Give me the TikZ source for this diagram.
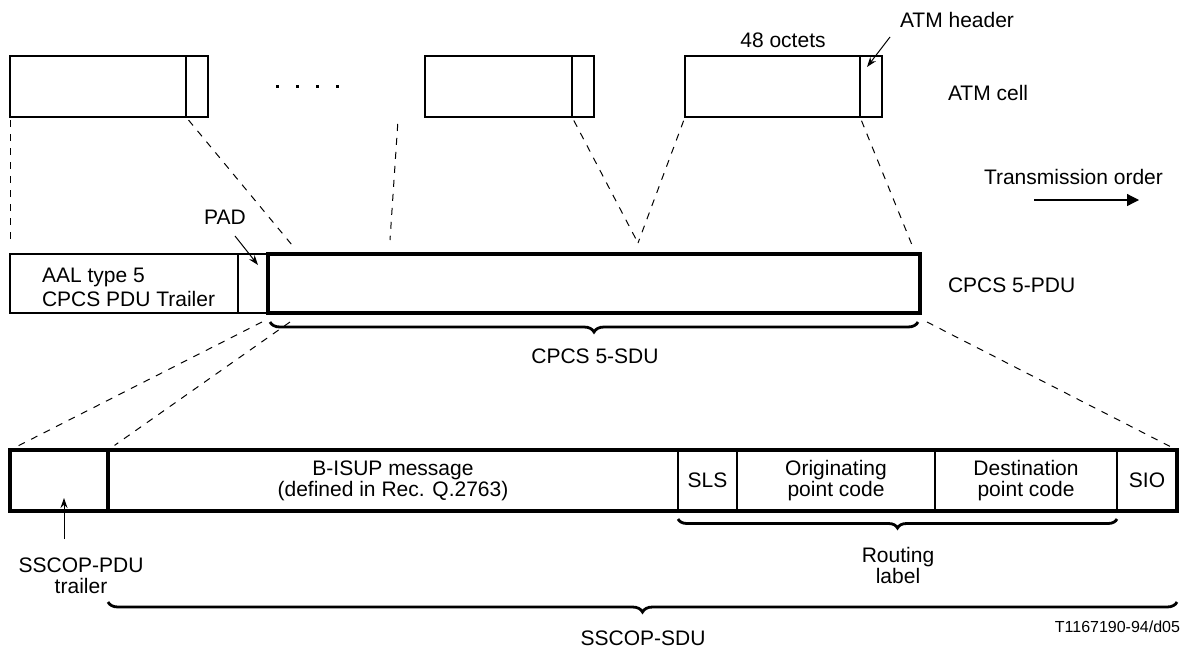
\documentclass[tikz,border=0pt]{standalone}
\usepackage{fontspec}
\setmainfont{Liberation Sans}
\usepackage{tikz}
\usetikzlibrary{positioning,arrows.meta,decorations.pathreplacing}
\newcommand{\txtsize}{\fontsize{10.5pt}{10.5pt}\selectfont}

\begin{document}
\begin{tikzpicture}[x=0.5pt, y=-0.5pt, every node/.style={font=\txtsize, inner sep=0pt, outer sep=0pt},
  cellbox/.style={draw, line width=0.65pt, anchor=north west, minimum height=30.5pt},
  pdubox/.style={draw, line width=0.65pt, anchor=north west, minimum height=29.5pt},
  sdubox/.style={draw, line width=1pt, anchor=north west, minimum height=30.5pt, align=center},
  dashline/.style={dash pattern=on 3.5pt off 3.5pt, line width=0.5pt},
  ptr/.style={-{Stealth[length=5pt,width=3.5pt]}, line width=0.5pt},
  bracel/.style={decorate, decoration={brace, mirror, amplitude=5pt}, line width=1.4pt}]
\useasboundingbox (0,0) rectangle (1187,649);
\node[cellbox, minimum width=88pt] (c1pay) at (10,56) {};
\node[cellbox, minimum width=11pt] (c1hdr) at (186,56) {};
\node[cellbox, minimum width=73.5pt] (c2pay) at (425,56) {};
\node[cellbox, minimum width=11pt] (c2hdr) at (572,56) {};
\node[cellbox, minimum width=87.5pt] (c3pay) at (685,56) {};
\node[cellbox, minimum width=11pt] (c3hdr) at (860,56) {};
\foreach \c in {c1hdr,c2hdr,c3hdr}
  \draw[line width=1pt] (\c.north west) -- (\c.south west);
\foreach \i in {0,...,3}
  \fill (275.5+20*\i,84.5) rectangle ++(3,3);
\node (octets) at (783,40) {48 octets};
\node (hdrlab) at (957,20) {ATM header};
\node[anchor=west] (celllab) at (948,93) {ATM cell};
\node[anchor=west] (translab) at (984,177) {Transmission order};
\node[pdubox, minimum width=114pt] (trailer) at (10,254) {};
\node[pdubox, minimum width=15pt] (pad) at (238,254) {};
\node[pdubox, line width=2pt, minimum width=326pt] (sdu) at (268,254) {};
\node[anchor=west, align=left, font=\fontsize{10.5pt}{12pt}\selectfont] (aallab) at (42,287) {AAL type 5\\CPCS PDU Trailer};
\node (padlab) at (225,217) {PAD};
\node[anchor=west] (pdulab) at (948,285) {CPCS 5-PDU};
\node (sdulab) at (595,356) {CPCS 5-SDU};
\node[sdubox, minimum width=49pt] (btrl) at (10,450) {};
\node[sdubox, minimum width=285pt] (bisup) at (108,450) {B-ISUP message\\(defined in Rec. Q.2763)};
\node[sdubox, minimum width=29.5pt] (sls) at (678,450) {SLS};
\node[sdubox, minimum width=99pt] (opc) at (737,450) {Originating\\point code};
\node[sdubox, minimum width=91pt] (dpc) at (935,450) {Destination\\point code};
\node[sdubox, minimum width=30pt] (sio) at (1117,450) {SIO};
\draw[line width=2pt] (btrl.north west) rectangle (sio.south east);
\draw[line width=1.6pt] (btrl.north east) -- (btrl.south east);
\node[align=center] (trllab) at (81,576) {SSCOP-PDU\\trailer};
\node[align=center] (rtlab) at (898,565) {Routing\\label};
\node (ssdulab) at (643,638) {SSCOP-SDU};
\node[anchor=east, font=\fontsize{8pt}{8pt}\selectfont] (figid) at (1180,627) {T1167190-94/d05};
\coordinate (d1) at (292,245);
\coordinate (d2) at (398,120);
\coordinate (d3) at (390,240);
\coordinate (d4) at (638,243);
\coordinate (d5) at (912,245);
\coordinate (e1) at (262,322);
\coordinate (e2) at (290,322);
\coordinate (e3) at (927,322);
\coordinate (hdrtail) at (890,37);
\coordinate (hdrtip) at (867,67);
\coordinate (padtail) at (235,236);
\coordinate (padtip) at (258,265);
\coordinate (trltail) at (64,539);
\coordinate (trltip) at (64,498);
\coordinate (txa) at (1034,200);
\coordinate (txb) at (1139,200);
\draw[dashline, shorten <=1.5pt, shorten >=5pt] (c1pay.south west) -- (trailer.north west);
\foreach \a/\b in {c1hdr.south west/d1, d2/d3, c2hdr.south west/d4, c3pay.south west/d4, c3hdr.south west/d5}
  \draw[dashline, shorten <=2pt] (\a) -- (\b);
\foreach \a/\b in {e1/btrl.north west, e2/bisup.north west, e3/sio.north east}
  \draw[dashline, shorten >=4pt] (\a) -- (\b);
\foreach \x/\y in {hdrtail/hdrtip, padtail/padtip, trltail/trltip}
  \draw[ptr] (\x) -- (\y);
\draw[-{Triangle[length=6pt,width=6pt]}, line width=0.6pt] (txa) -- (txb);
\draw[bracel] ([shift={(1pt,-4.5pt)}]sdu.south west) -- ([shift={(-1pt,-4.5pt)}]sdu.south east);
\draw[bracel, decoration={amplitude=4.5pt}] ([yshift=-4pt]sls.south west) -- ([yshift=-4pt]dpc.south east);
\draw[bracel] ([yshift=-45.5pt]bisup.south west) -- ([yshift=-45.5pt]sio.south east);
\end{tikzpicture}
\end{document}
